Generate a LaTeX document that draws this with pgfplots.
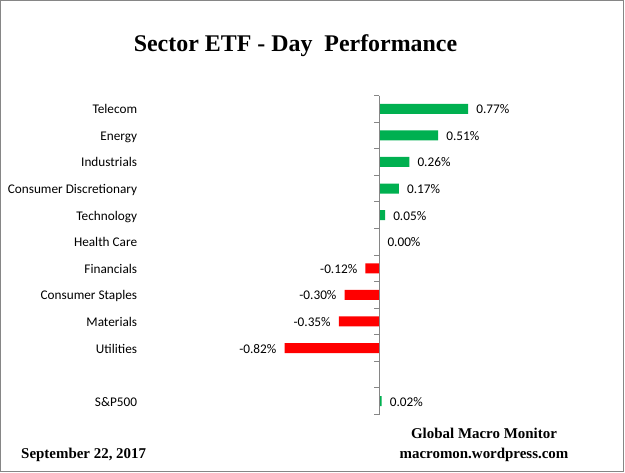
\documentclass[border=0pt]{standalone}
\usepackage{pgfplots}
\pgfplotsset{compat=1.18}
\usepackage{pgfplotstable}
\usepackage{fontspec}
\setmainfont{Carlito}
\newfontfamily\titlefont{Liberation Serif}
\definecolor{posgreen}{RGB}{0,176,80}
\definecolor{negred}{RGB}{255,0,0}
\definecolor{framegray}{RGB}{134,134,134}

% rows: 0 = Telecom (top) ... 9 = Utilities, 11 = S&P500
\pgfplotstableread{
y val
0 0.77
1 0.51
2 0.26
3 0.17
4 0.05
5 0.00
11 0.02
}\positivedata
\pgfplotstableread{
y val
6 -0.12
7 -0.30
8 -0.35
9 -0.82
}\negativedata

\begin{document}
\begin{tikzpicture}
  \useasboundingbox (0,0) rectangle (625bp,473bp);
  \draw[framegray, line width=1.3bp] (0.7bp,1.2bp) rectangle (623.6bp,472.3bp);

  \begin{axis}[
      at={(148.3bp,58.5bp)}, anchor=south west,
      scale only axis, width=462bp, height=319bp,
      xmin=-2, xmax=2, ymin=-0.5, ymax=11.5, y dir=reverse,
      axis line style={draw=none},
      xtick=\empty,
      ytick={0,...,11},
      yticklabels={Telecom,Energy,Industrials,Consumer Discretionary,Technology,Health Care,Financials,Consumer Staples,Materials,Utilities,,S\&P500},
      major tick length=0pt,
      yticklabel style={font=\fontsize{13.3}{15}\selectfont, inner sep=0pt, anchor=base east, xshift=-11bp, yshift=-5bp},
      xbar, bar width=10bp, bar shift=0pt,
      point meta=x,
      nodes near coords={\pgfmathprintnumber[fixed,fixed zerofill,precision=2,assume math mode=true]{\pgfplotspointmeta}\%},
      nodes near coords style={font=\fontsize{13.3}{15}\selectfont, inner sep=0pt, text=black},
      clip=false]
    \addplot[fill=posgreen, draw=none,
      nodes near coords style={anchor=base west, xshift=8bp, yshift=-5bp}]
      table[x=val, y=y] {\positivedata};
    \addplot[fill=negred, draw=none,
      nodes near coords style={anchor=base east, xshift=-8bp, yshift=-5bp}]
      table[x=val, y=y] {\negativedata};
    % zero axis with category separators
    \draw[framegray, line width=1bp] (axis cs:0,-0.5) -- (axis cs:0,11.5);
    \pgfplotsinvokeforeach{-0.5,0.5,...,11.5}{
      \draw[framegray, line width=1bp] (axis cs:0,#1) -- ++(-5bp,0pt);
    }
  \end{axis}

  \node[font=\titlefont\bfseries\fontsize{24}{28}\selectfont, anchor=base] at (295.5bp,421.5bp) {Sector ETF - Day\ \ Performance};
  \node[font=\titlefont\bfseries\fontsize{15}{18}\selectfont, anchor=base west, inner sep=0pt] at (21bp,15bp) {September 22, 2017};
  \node[font=\titlefont\bfseries\fontsize{15}{18}\selectfont, anchor=base] at (484bp,35bp) {Global Macro Monitor};
  \node[font=\titlefont\bfseries\fontsize{15}{18}\selectfont, anchor=base] at (484bp,15bp) {macromon.wordpress.com};
\end{tikzpicture}
\end{document}
